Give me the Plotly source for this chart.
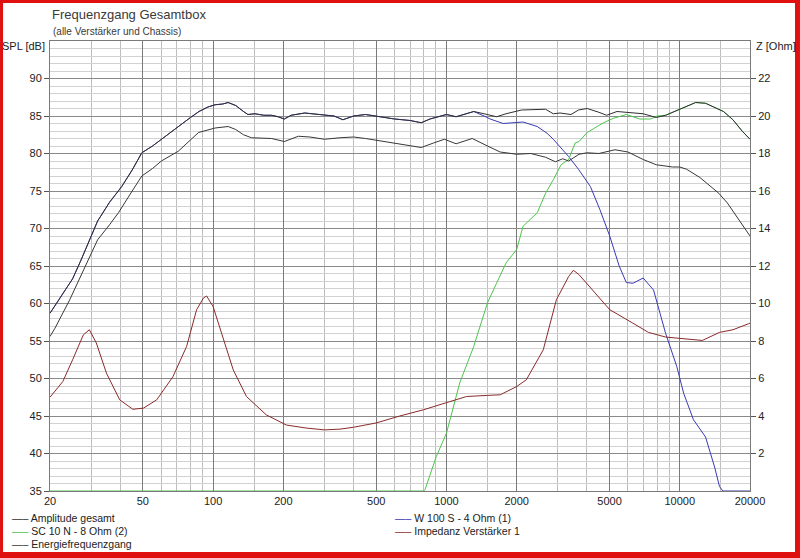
import plotly.graph_objects as go

# ---------------- data ----------------
amp_f = [20, 22, 25, 27, 29.2, 32, 36, 40.6, 45, 49.5, 55, 60, 70, 80, 87, 95, 102, 110, 116, 125,
         135, 141, 151, 165, 178, 190, 202, 216, 247, 280, 330, 360, 400, 450, 520, 600, 700, 780,
         850, 1000, 1100, 1200, 1310, 1450, 1640, 1800, 2100, 2660, 2870, 3070, 3420, 3680, 4010,
         4500, 4860, 5380, 6060, 6970, 7930, 8700, 10000, 11700, 12900, 14000, 15400, 16900, 18500, 20000]
amp_db = [58.7, 60.6, 63.3, 65.6, 68.1, 71.0, 73.5, 75.6, 77.8, 80.1, 81.0, 81.9, 83.5, 84.8, 85.6, 86.2,
          86.5, 86.6, 86.8, 86.4, 85.6, 85.2, 85.3, 85.1, 85.1, 84.9, 84.6, 85.1, 85.4, 85.2, 85.0, 84.5,
          85.0, 85.2, 84.9, 84.6, 84.4, 84.1, 84.6, 85.2, 84.9, 85.2, 85.6, 85.3, 84.9, 85.3, 85.8, 85.9,
          85.3, 85.4, 85.2, 85.8, 86.0, 85.5, 85.1, 85.6, 85.5, 85.3, 84.8, 85.1, 85.9, 86.8, 86.7, 86.2,
          85.6, 84.5, 83.0, 81.9]

energy_f = [20, 21, 24.3, 27, 29.2, 32, 36, 39.3, 45, 49.5, 55, 60, 70.9, 80, 86.6, 102, 116, 125, 135,
            146, 178, 202, 232, 260, 300, 350, 400, 450, 518, 600, 700, 780, 880, 980, 1100, 1290, 1500,
            1700, 2000, 2300, 2660, 2930, 3150, 3340, 3700, 4010, 4500, 4860, 5280, 6000, 6970, 7930,
            9320, 10000, 10700, 12200, 14700, 16000, 18000, 20000]
energy_db = [55.6, 56.7, 60.5, 63.5, 65.8, 68.5, 70.5, 72.1, 75.0, 77.0, 78.0, 79.0, 80.3, 81.8, 82.8,
             83.4, 83.6, 83.2, 82.5, 82.1, 82.0, 81.6, 82.3, 82.2, 81.9, 82.1, 82.2, 82.0, 81.7, 81.4,
             81.0, 80.8, 81.4, 81.9, 81.3, 82.0, 81.0, 80.2, 79.9, 80.0, 79.5, 78.9, 79.3, 79.0, 79.9,
             80.1, 80.0, 80.2, 80.5, 80.2, 79.2, 78.5, 78.2, 78.2, 77.9, 76.8, 74.7, 73.4, 71.0, 69.0]

# W 100 S follows the total amplitude up to 1310 Hz, then its own values
w100_hi_f = [1450, 1540, 1750, 2130, 2450, 2700, 2870, 3100, 3340, 3680, 4140, 4550, 5010, 5500, 5900,
             6300, 6970, 7720, 8200, 8700, 9710, 10400, 11450, 12900, 14100, 14800, 15300, 20000]
w100_hi_db = [85.0, 84.6, 84.0, 84.2, 83.6, 82.7, 81.9, 80.8, 79.6, 77.9, 75.6, 72.5, 69.0, 65.0, 62.8,
              62.7, 63.4, 61.8, 59.0, 56.0, 51.6, 48.0, 44.5, 42.2, 38.2, 35.6, 35.0, 35.0]

# SC 10 N: own values below 8700 Hz, then follows the total amplitude
sc10_lo_f = [20, 800, 810, 905, 1000, 1140, 1310, 1500, 1640, 1800, 2000, 2130, 2450, 2660, 2870, 3100,
             3340, 3560, 3700, 4010, 4710, 5200, 5900, 6740, 7500, 8000]
sc10_lo_db = [35.0, 35.0, 35.2, 39.6, 42.7, 49.4, 54.3, 60.1, 62.7, 65.4, 67.2, 70.3, 72.1, 74.7, 76.5,
              78.5, 79.2, 81.4, 81.6, 82.8, 84.1, 84.7, 85.2, 84.6, 84.6, 85.0]

imp_f = [20, 22.7, 25, 27.8, 29.5, 31.6, 34.9, 39.8, 45.3, 50.3, 57.3, 67.3, 77, 85, 91, 93.8, 100,
         110.7, 122, 139, 169, 206, 250, 300, 350, 400, 500, 631, 700, 797, 1005, 1220, 1500, 1700,
         2000, 2200, 2600, 2960, 3340, 3500, 3700, 4140, 5010, 6280, 7340, 8700, 10700, 12500, 14800,
         16900, 19700, 20000]
imp_ohm = [5.0, 5.84, 7.0, 8.33, 8.6, 7.89, 6.29, 4.86, 4.36, 4.42, 4.86, 6.1, 7.71, 9.67, 10.3, 10.4,
           9.84, 8.06, 6.46, 5.04, 4.06, 3.52, 3.36, 3.26, 3.3, 3.4, 3.63, 4.0, 4.15, 4.33, 4.72, 5.04,
           5.1, 5.13, 5.57, 5.93, 7.53, 10.2, 11.44, 11.77, 11.54, 10.83, 9.67, 8.96, 8.46, 8.21, 8.1,
           8.03, 8.46, 8.6, 8.92, 8.95]

x_major = [20, 50, 100, 200, 500, 1000, 2000, 5000, 10000, 20000]
x_minor = [30, 40, 60, 70, 80, 90, 150, 300, 400, 600, 700, 800, 900, 1500, 3000, 4000, 6000, 7000,
           8000, 9000, 15000]
spl_ticks = [35, 40, 45, 50, 55, 60, 65, 70, 75, 80, 85, 90]
z_ticks = [2, 4, 6, 8, 10, 12, 14, 16, 18, 20, 22]

names = ["Amplitude gesamt", "SC 10 N - 8 Ohm (2)", "Energiefrequenzgang",
         "W 100 S - 4 Ohm (1)", "Impedanz Verstärker 1"]
colors = {"amp": "#303030", "sc10": "#4cc44c", "energy": "#383838", "w100": "#3a3ab4", "imp": "#8b2a2a"}

# derived series
w100_f = [f for f in amp_f if f <= 1310] + w100_hi_f
w100_db = [d for f, d in zip(amp_f, amp_db) if f <= 1310] + w100_hi_db
sc10_f = sc10_lo_f + [f for f in amp_f if f >= 8700]
sc10_db = sc10_lo_db + [d for f, d in zip(amp_f, amp_db) if f >= 8700]

# ---------------- figure ----------------
fig = go.Figure()
fig.add_trace(go.Scatter(x=w100_f, y=w100_db, mode="lines", name=names[3],
                         line=dict(color=colors["w100"], width=1), showlegend=False))
fig.add_trace(go.Scatter(x=sc10_f, y=sc10_db, mode="lines", name=names[1],
                         line=dict(color=colors["sc10"], width=1), showlegend=False))
fig.add_trace(go.Scatter(x=amp_f, y=amp_db, mode="lines", name=names[0],
                         line=dict(color=colors["amp"], width=1), showlegend=False))
fig.add_trace(go.Scatter(x=energy_f, y=energy_db, mode="lines", name=names[2],
                         line=dict(color=colors["energy"], width=1), showlegend=False))
fig.add_trace(go.Scatter(x=imp_f, y=imp_ohm, mode="lines", name=names[4], yaxis="y2",
                         line=dict(color=colors["imp"], width=1), showlegend=False))

tick_font = dict(family="Liberation Sans Narrow, Arial Narrow, Arial, sans-serif", size=11, color="#222")

fig.update_layout(
    width=800, height=558,
    margin=dict(l=50, r=50, t=41, b=67),
    paper_bgcolor="white", plot_bgcolor="white",
    font=dict(family="Arial, Liberation Sans, sans-serif", color="#222"),
    xaxis=dict(type="log", range=[1.30103, 4.30103], tickmode="array", tickvals=x_major,
               ticktext=[str(v) for v in x_major], showgrid=True, gridcolor="#7a7a7a", gridwidth=1,
               minor=dict(tickmode="array", tickvals=x_minor, showgrid=True, gridcolor="#bdbdbd", gridwidth=1),
               showline=True, mirror=True, linecolor="#7a7a7a", ticks="", zeroline=False,
               tickfont=tick_font, fixedrange=True),
    yaxis=dict(range=[35, 95], tickmode="array", tickvals=spl_ticks, showgrid=True,
               gridcolor="#8a8a8a", gridwidth=1,
               minor=dict(dtick=1, tick0=35, showgrid=True, gridcolor="#d2d2d2", gridwidth=1),
               showline=True, mirror=True, linecolor="#7a7a7a", ticks="outside", ticklen=5,
               tickcolor="#555", zeroline=False, tickfont=tick_font),
    yaxis2=dict(range=[0, 24], overlaying="y", side="right", tickmode="array", tickvals=z_ticks,
                showgrid=False, ticks="outside", ticklen=5, tickcolor="#555", zeroline=False,
                showline=False, tickfont=tick_font),
)

ann = [
    dict(text="Frequenzgang Gesamtbox", x=0, y=1.058, xanchor="left", yanchor="middle",
         font=dict(size=13, color="#3a3a3a")),
    dict(text="(alle Verstärker und Chassis)", x=0.001, y=1.022, xanchor="left", yanchor="middle",
         font=dict(size=10, color="#3a3a3a")),
    dict(text="SPL [dB]", x=-0.004, y=0.989, xanchor="right", yanchor="middle",
         font=dict(size=11, color="#222")),
    dict(text="Z [Ohm]", x=1.006, y=0.989, xanchor="left", yanchor="middle",
         font=dict(size=11, color="#222")),
]
legend_items = [
    (names[0], colors["amp"], -0.057, -0.060),
    (names[1], colors["sc10"], -0.057, -0.089),
    (names[2], colors["energy"], -0.057, -0.118),
    (names[3], colors["w100"], 0.490, -0.060),
    (names[4], colors["imp"], 0.490, -0.089),
]
for txt, col, lx, ly in legend_items:
    ann.append(dict(text=f"<span style='color:{col}'>—–</span> {txt}", x=lx, y=ly,
                    xanchor="left", yanchor="middle",
                    font=dict(size=10.5, color="#222",
                              family="Liberation Sans Narrow, Arial Narrow, Arial, sans-serif")))
for a in ann:
    a.update(xref="paper", yref="paper", showarrow=False)
fig.update_layout(annotations=ann)

# red window frame around the picture
red = "#e01010"
frame = [(-0.0714, -0.0671, -0.149, 1.0911), (1.0643, 1.0714, -0.149, 1.0911),
         (-0.0714, 1.0714, 1.0844, 1.0911), (-0.0714, 1.0714, -0.149, -0.1356)]
for x0, x1, y0, y1 in frame:
    fig.add_shape(type="rect", xref="paper", yref="paper", x0=x0, x1=x1, y0=y0, y1=y1,
                  fillcolor=red, line=dict(width=0), layer="above")

fig.write_html("out.html", config={"displayModeBar": False},
               post_script="document.body.style.margin='0';document.body.style.overflow='hidden';")
